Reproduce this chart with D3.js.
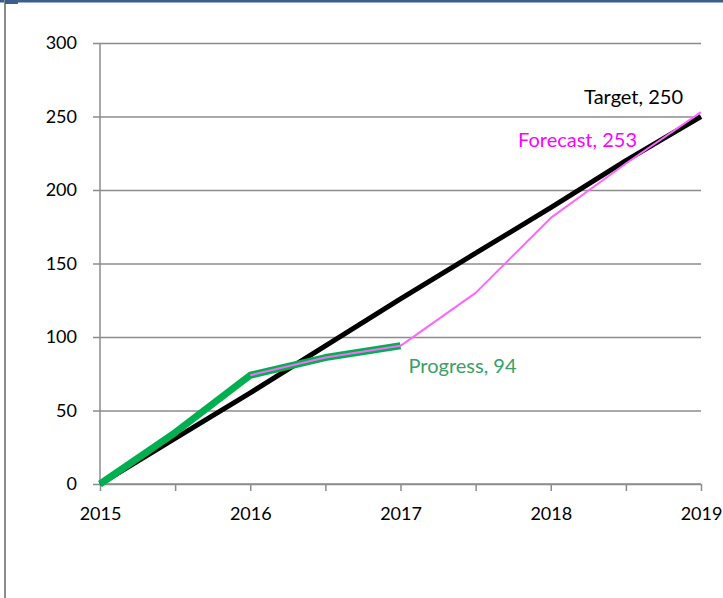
<!DOCTYPE html>
<html>
<head>
<meta charset="utf-8">
<script src="https://cdn.jsdelivr.net/npm/d3@7"></script>
<style>
  body { margin: 0; background: #fff; }
  svg { display: block; font-family: Lato, "Open Sans", sans-serif; }
</style>
</head>
<body>
<svg width="723" height="598"></svg>
<script>
// values, half-year steps
var years = [2015, 2015.5, 2016, 2016.5, 2017, 2017.5, 2018, 2018.5, 2019];
var target = [0, 31, 62, 94, 126, 157, 188, 220, 250];
var forecastYears = [2016, 2016.5, 2017, 2017.5, 2018, 2018.5, 2019];
var forecast = [74, 86, 94, 130, 181, 218, 253];
var progressYears = [2015, 2015.5, 2016, 2016.5, 2017];
var progress = [0, 35, 74, 86, 94];
var yTicks = [0, 50, 100, 150, 200, 250, 300];
var xTicks = [2015, 2016, 2017, 2018, 2019];

var svg = d3.select("svg"),
    margin = {top: 43, right: 22, bottom: 114, left: 100},
    width = +svg.attr("width") - margin.left - margin.right,
    height = +svg.attr("height") - margin.top - margin.bottom;

// outer frame
svg.append("rect").attr("x", 0).attr("y", 0).attr("width", 723).attr("height", 2.5).attr("fill", "#3a5f8f");
svg.append("rect").attr("x", 4).attr("y", 0).attr("width", 2).attr("height", 598).attr("fill", "#8c8c8c");
svg.append("rect").attr("x", 5).attr("y", 0).attr("width", 13).attr("height", 4).attr("fill", "#3a5f8f");

var x = d3.scaleLinear().domain([2015, 2019]).range([0, width]),
    y = d3.scaleLinear().domain([0, 300]).range([height, 0]);

var g = svg.append("g")
  .attr("transform", "translate(" + margin.left + "," + margin.top + ")");

// gridlines + y axis
g.append("g")
  .attr("class", "axis axis--y")
  .call(d3.axisLeft(y).tickValues(yTicks).tickSize(-width - 7).tickPadding(23))
  .call(function(a) {
    a.select(".domain").remove();
    a.selectAll(".tick line").attr("x1", -7).attr("x2", width).attr("stroke", "#8c8c8c").attr("stroke-width", 1.5);
    a.selectAll(".tick text").attr("font-size", 18).attr("fill", "#000").attr("font-family", "Lato, sans-serif");
  });

g.append("line").attr("x1", 0).attr("x2", 0).attr("y1", 0).attr("y2", height)
  .attr("stroke", "#8c8c8c").attr("stroke-width", 1.5);

// x axis
g.append("g")
  .attr("class", "axis axis--x")
  .attr("transform", "translate(0," + height + ")")
  .call(d3.axisBottom(x).tickValues(years).tickSize(7).tickPadding(16)
    .tickFormat(function(d) { return xTicks.indexOf(d) >= 0 ? d : ""; }))
  .call(function(a) {
    a.select(".domain").attr("stroke", "#8c8c8c").attr("stroke-width", 1.5).attr("d", "M0,0H" + width);
    a.selectAll(".tick line").attr("stroke", "#8c8c8c").attr("stroke-width", 1.5);
    a.selectAll(".tick text").attr("font-size", 18).attr("fill", "#000").attr("font-family", "Lato, sans-serif");
  });

var line = d3.line()
  .x(function(d) { return x(d[0]); })
  .y(function(d) { return y(d[1]); });

g.append("path")
  .datum(d3.zip(years, target))
  .attr("fill", "none").attr("stroke", "#000").attr("stroke-width", 5)
  .attr("stroke-linejoin", "round")
  .attr("d", line);

g.append("path")
  .datum(d3.zip(progressYears, progress))
  .attr("fill", "none").attr("stroke", "#00b050").attr("stroke-width", 7)
  .attr("stroke-linejoin", "round")
  .attr("d", line);

g.append("path")
  .datum(d3.zip(forecastYears, forecast))
  .attr("fill", "none").attr("stroke", "#ff66ff").attr("stroke-width", 2)
  .attr("stroke-linejoin", "round")
  .attr("d", line);

// data labels
function label(xv, yv, txt, color, dx, dy, anchor) {
  g.append("text")
    .attr("x", x(xv) + dx).attr("y", y(yv) + dy)
    .attr("text-anchor", anchor)
    .attr("font-size", 20)
    .attr("fill", color)
    .text(txt);
}
label(2019, target[target.length - 1], "Target, " + target[target.length - 1], "#000", -18, -13, "end");
label(2019, forecast[forecast.length - 1], "Forecast, " + forecast[forecast.length - 1], "#ff00ff", -64, 35, "end");
label(2017, progress[progress.length - 1], "Progress, " + progress[progress.length - 1], "#3a9e66", 8, 27, "start");
</script>
</body>
</html>
